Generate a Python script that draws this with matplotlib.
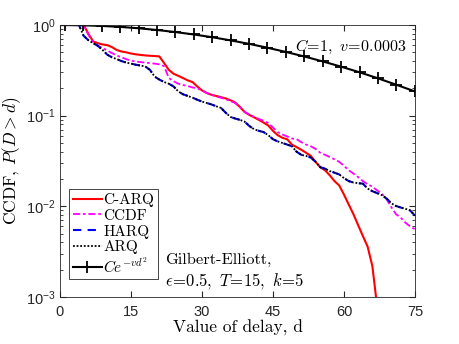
import matplotlib
matplotlib.use("Agg")
import matplotlib.pyplot as plt
import numpy as np

plt.rcParams['mathtext.fontset'] = 'cm'
plt.rcParams['axes.unicode_minus'] = False

# delay values
d = list(range(0, 76))

# C-ARQ (ends where it drops below 1e-3)
d_carq = list(range(0, 68))
carq = [1.0, 1.0, 1.0, 1.0, 1.0, 1.0, 0.80, 0.66, 0.63, 0.61,
        0.60, 0.57, 0.53, 0.51, 0.50, 0.485, 0.475, 0.468, 0.462, 0.458,
        0.455, 0.45, 0.38, 0.32, 0.29, 0.275, 0.26, 0.245, 0.235, 0.21,
        0.19, 0.178, 0.17, 0.165, 0.16, 0.155, 0.148, 0.14, 0.125, 0.11,
        0.102, 0.096, 0.09, 0.084, 0.078, 0.068, 0.061, 0.057, 0.055, 0.048,
        0.045, 0.042, 0.039, 0.036, 0.031, 0.027, 0.025, 0.022, 0.019, 0.017,
        0.0135, 0.0105, 0.0082, 0.0062, 0.0047, 0.0036, 0.0022, 0.0008]

ccdf = [1.0, 1.0, 1.0, 1.0, 1.0, 1.0, 0.78, 0.64, 0.59, 0.56,
        0.52, 0.49, 0.46, 0.44, 0.42, 0.405, 0.395, 0.39, 0.385, 0.38,
        0.375, 0.368, 0.352, 0.26, 0.24, 0.225, 0.218, 0.212, 0.205, 0.2,
        0.19, 0.178, 0.17, 0.163, 0.158, 0.152, 0.145, 0.138, 0.125, 0.11,
        0.103, 0.097, 0.092, 0.088, 0.083, 0.074, 0.066, 0.062, 0.059, 0.056,
        0.055, 0.051, 0.048, 0.046, 0.043, 0.039, 0.037, 0.035, 0.033, 0.031,
        0.028, 0.025, 0.023, 0.021, 0.019, 0.0175, 0.0165, 0.015, 0.0138, 0.012,
        0.0098, 0.0082, 0.0075, 0.0066, 0.006, 0.0056]

# HARQ and ARQ overlap
harq = [1.0, 1.0, 1.0, 1.0, 1.0, 0.76, 0.68, 0.63, 0.59, 0.53,
        0.47, 0.44, 0.42, 0.40, 0.385, 0.375, 0.365, 0.357, 0.35, 0.32,
        0.27, 0.25, 0.235, 0.225, 0.21, 0.185, 0.172, 0.165, 0.158, 0.15,
        0.143, 0.138, 0.133, 0.127, 0.122, 0.108, 0.097, 0.093, 0.09, 0.086,
        0.077, 0.071, 0.068, 0.066, 0.061, 0.055, 0.052, 0.05, 0.048, 0.046,
        0.04, 0.037, 0.036, 0.0345, 0.031, 0.027, 0.026, 0.0245, 0.0235, 0.0225,
        0.0205, 0.019, 0.0183, 0.018, 0.0178, 0.0157, 0.0147, 0.014, 0.0133, 0.0122,
        0.0108, 0.0101, 0.0097, 0.0094, 0.009, 0.0079]
arq = harq

# C e^{-v d^2}, C=1, v=0.0003
d_fit = [1, 4.9, 8.8, 12.7, 16.6, 20.5, 24.4, 28.3, 32.2, 36.1,
         40, 43.8, 47.7, 51.6, 55.5, 59.4, 63.3, 67.2, 71.1, 75]
fit = [0.9997, 0.9928, 0.977, 0.953, 0.921, 0.881, 0.836, 0.786, 0.733, 0.676,
       0.619, 0.562, 0.505, 0.450, 0.397, 0.347, 0.301, 0.258, 0.219, 0.185]

serif = 'cmr10'
sans = 'Liberation Sans'

fig = plt.figure(figsize=(4.59, 3.44), dpi=100)
ax = fig.add_axes([0.1307, 0.1366, 0.7733, 0.7907])

ax.plot(d_carq, carq, color='#ff0000', lw=1.5, label='C-ARQ')
ax.plot(d, ccdf, color='#ff00ff', lw=1.3, linestyle=(0, (4, 1.5, 1.5, 1.5)), label='CCDF')
ax.plot(d, harq, color='#0000ff', lw=1.5, linestyle=(0, (4, 3)), label='HARQ')
ax.plot(d, arq, color='black', lw=1.3, linestyle=(0, (1, 1)), label='ARQ')
ax.plot(d_fit, fit, color='black', lw=1.5, marker='+', markersize=9,
        markeredgewidth=1.3, label=r'$Ce^{-vd^2}$')

ax.set_yscale('log')
ax.set_xlim(0, 75)
ax.set_ylim(1e-3, 1)
ax.set_xticks([0, 15, 30, 45, 60, 75])
ax.set_xticklabels(['0', '15', '30', '45', '60', '75'], family=sans, fontsize=10.5)
ax.set_yticks([1e-3, 1e-2, 1e-1, 1])
ax.set_yticklabels([r'$\mathregular{10^{-3}}$', r'$\mathregular{10^{-2}}$',
                    r'$\mathregular{10^{-1}}$', r'$\mathregular{10^{0}}$'],
                   family=sans, fontsize=10.5)
ax.tick_params(which='both', direction='in', top=True, right=True,
               colors='#262626', labelcolor='#262626')
ax.tick_params(which='major', length=4)
ax.tick_params(which='minor', length=2)
ax.tick_params(axis='x', pad=6)
ax.tick_params(axis='y', pad=3)
for s in ax.spines.values():
    s.set_color('#262626')
    s.set_linewidth(0.6)

ax.set_xlabel('Value of delay, d', family=serif, fontsize=12.5, labelpad=0)
ax.set_ylabel(r'CCDF, $P(D>d)$', family=serif, fontsize=12.5, labelpad=2)

ax.text(0.975, 0.92, r'$C\!=\!1,\ v\!=\!0.0003$', transform=ax.transAxes,
        ha='right', va='center', fontsize=11.5)
ax.text(0.297, 0.135, 'Gilbert-Elliott,', transform=ax.transAxes,
        ha='left', va='center', family=serif, fontsize=11.8)
ax.text(0.297, 0.06, r'$\epsilon\!=\!0.5,\ T\!=\!15,\ k\!=\!5$', transform=ax.transAxes,
        ha='left', va='center', fontsize=12)

leg = ax.legend(loc='lower left', bbox_to_anchor=(0.025, 0.065), prop={'family': serif, 'size': 11},
                frameon=True, fancybox=False, framealpha=1, edgecolor='#262626',
                handlelength=1.9, handletextpad=0.1, labelspacing=0.12,
                borderpad=0.25, borderaxespad=0)
leg.get_frame().set_linewidth(0.6)

fig.savefig('out.png', dpi=100)
